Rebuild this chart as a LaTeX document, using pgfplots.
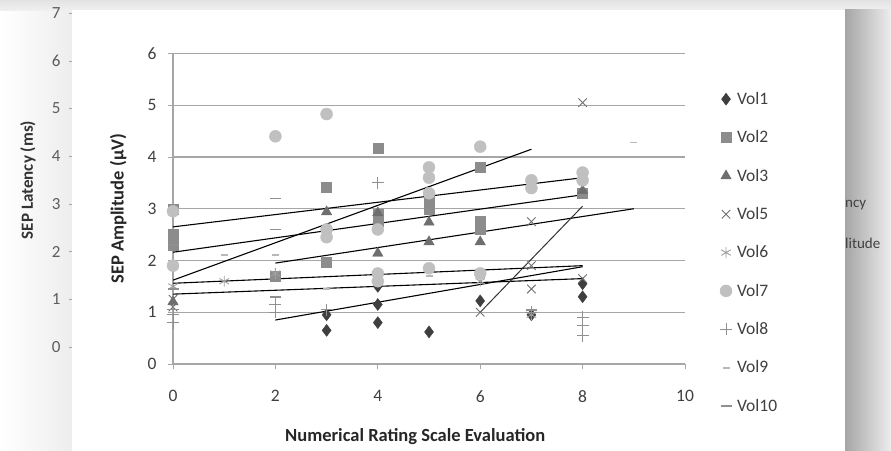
\documentclass[border=0pt]{standalone}
\usepackage{pgfplots}
\pgfplotsset{compat=1.18}
\usepackage{fontspec}
\setmainfont{Carlito}
\usetikzlibrary{shadings}
\definecolor{txt}{HTML}{404040}
\definecolor{gridc}{HTML}{A6A6A6}
\definecolor{cA}{HTML}{3F3F3F}
\definecolor{cB}{HTML}{8C8C8C}
\definecolor{cC}{HTML}{6E6E6E}
\definecolor{cD}{HTML}{707070}
\definecolor{cE}{HTML}{A0A0A0}
\definecolor{cF}{HTML}{C0C0C0}
\definecolor{cH}{HTML}{B8B8B8}
\definecolor{cI}{HTML}{909090}
\begin{document}
\begin{tikzpicture}
\useasboundingbox (0,0) rectangle (891pt,450pt);
\fill[white] (0,0) rectangle (891pt,450pt);
\shade[top color=gray!22, bottom color=gray!10] (0,438pt) rectangle (891pt,450pt);
\shade[left color=white, right color=gray!14] (0,0) rectangle (72pt,438pt);
\shade[left color=gray!70, right color=gray!14] (845pt,0) rectangle (891pt,440pt);
% background chart (partly hidden)
\begin{axis}[
  at={(72pt,103pt)}, anchor=south west,
  scale only axis, width=10pt, height=334pt,
  xmin=0, xmax=1, ymin=0, ymax=7,
  hide x axis, axis y line*=left,
  y axis line style={draw=none},
  ytick={0,1,...,7},
  /pgf/number format/assume math mode=true,
  tick align=outside, major tick length=3pt,
  tick style={gridc},
  yticklabel style={font=\fontsize{17}{18}\selectfont, text=txt!85, xshift=-5pt},
  ylabel={\textbf{SEP Latency (ms)}},
  ylabel style={font=\fontsize{17}{18}\selectfont, text=black!80, at={(axis description cs:-4.4,0.5)}, anchor=center},
]
\addplot[draw=none] coordinates {(0,0)};
\end{axis}
\node[anchor=west, text=txt, font=\fontsize{15}{16}\selectfont, inner sep=0pt] at (845pt,245pt) {ncy};
\node[anchor=west, text=txt, font=\fontsize{15}{16}\selectfont, inner sep=0pt] at (845pt,207pt) {litude};
% panel
\fill[white] (72pt,0) rectangle (845pt,440pt);
% foreground chart
\begin{axis}[
  at={(173pt,86pt)}, anchor=south west,
  scale only axis, width=512pt, height=310.5pt,
  xmin=0, xmax=10, ymin=0, ymax=6,
  axis x line=bottom, axis y line=left,
  axis line style={gridc, line width=1.2pt, -},
  xtick={0,2,...,10}, ytick={0,1,...,6},
  /pgf/number format/assume math mode=true,
  ymajorgrids, grid style={gridc, line width=1.2pt},
  tick align=outside, major tick length=5pt,
  tick style={gridc, line width=0.8pt},
  ticklabel style={font=\fontsize{17.5}{18}\selectfont, text=txt},
  xticklabel style={yshift=-18pt},
  yticklabel style={xshift=-8pt},
  xlabel={\textbf{Numerical Rating Scale  Evaluation}},
  ylabel={\textbf{SEP Amplitude (µV)}},
  label style={font=\fontsize{18.5}{19}\selectfont, text=black!85},
  xlabel style={at={(axis description cs:0.473,-0.235)}, anchor=center},
  ylabel style={at={(axis description cs:-0.107,0.5)}, anchor=center},
  legend style={at={(1.068,0.882)}, anchor=north west, draw=none, fill=none,
    font=\fontsize{17.5}{18}\selectfont, text=txt, row sep=20.7pt, column sep=3pt, inner sep=0pt},
  legend cell align=left,
  clip=false,
]
% Vol1
\addplot[only marks, mark=diamond*, mark size=6pt, color=cA] coordinates {
(3,0.95)(3,0.65)(4,1.5)(4,1.15)(4,0.8)(5,0.62)(6,1.22)(7,0.95)(8,1.55)(8,1.3)};
\addlegendentry{Vol1}
% Vol2
\addplot[only marks, mark=square*, mark size=5pt, color=cB] coordinates {
(0,3.0)(0,2.5)(0,2.3)(2,1.7)(3,3.42)(3,1.97)(4,4.17)(4,2.9)(4,2.75)(5,3.15)(5,3.0)(6,3.8)(6,2.75)(6,2.6)(8,3.3)};
\addlegendentry{Vol2}
% Vol3
\addplot[only marks, mark=triangle*, mark size=6pt, color=cC] coordinates {
(0,1.2)(3,2.94)(3,2.53)(4,2.92)(4,2.14)(5,2.74)(5,2.36)(6,2.36)(8,3.35)};
\addlegendentry{Vol3}
% Vol5
\addplot[only marks, mark=x, mark size=6pt, line width=0.9pt, color=cD] coordinates {
(0,1.25)(0,1.1)(6,1.0)(6,1.75)(7,2.75)(7,1.9)(7,1.45)(8,5.05)(8,1.65)};
\addlegendentry{Vol5}
% Vol6
\addplot[only marks, mark=asterisk, mark size=5.5pt, line width=0.9pt, color=cE] coordinates {
(0,1.5)(1,1.6)(2,1.75)(6,1.6)(7,0.95)};
\addlegendentry{Vol6}
% Vol7
\addplot[only marks, mark=*, mark size=6pt, color=cF] coordinates {
(0,2.95)(0,1.9)(2,4.4)(3,4.83)(3,2.6)(3,2.45)(4,2.6)(4,1.75)(4,1.6)(5,3.8)(5,3.6)(5,3.3)(5,1.85)(6,4.2)(6,1.75)(7,3.55)(7,3.4)(8,3.7)(8,3.55)};
\addlegendentry{Vol7}
% Vol8
\addplot[only marks, mark=+, mark size=6pt, line width=0.9pt, color=cI] coordinates {
(0,1.05)(0,0.95)(0,0.8)(2,1.15)(2,1.0)(3,1.05)(4,3.5)(7,1.0)(8,0.9)(8,0.75)(8,0.55)};
\addlegendentry{Vol8}
% Vol9
\addplot[only marks, mark=-, mark size=3.5pt, line width=1.8pt, color=cH] coordinates {
(1,2.1)(2,2.1)(3,1.45)(5,1.7)(9,4.28)};
\addlegendentry{Vol9}
% Vol10
\addplot[only marks, mark=-, mark size=5.5pt, line width=1.8pt, color=cI] coordinates {
(0,2.3)(0,1.45)(2,3.2)(2,2.6)(2,1.3)(3,2.0)(7,1.05)};
\addlegendentry{Vol10}
% trend lines
\addplot[forget plot, black, line width=1.1pt] coordinates {(0,2.65)(8,3.6)};
\addplot[forget plot, black, line width=1.1pt] coordinates {(0,2.16)(8,3.27)};
\addplot[forget plot, black, line width=1.1pt] coordinates {(2,1.95)(9,3.0)};
\addplot[forget plot, black, line width=1.1pt] coordinates {(0,1.62)(7,4.15)};
\addplot[forget plot, black, line width=1.1pt] coordinates {(0,1.56)(8,1.9)};
\addplot[forget plot, black, line width=1.1pt] coordinates {(0,1.35)(8,1.65)};
\addplot[forget plot, black, line width=1.1pt] coordinates {(2,0.85)(8,1.88)};
\addplot[forget plot, black!80, line width=1.0pt] coordinates {(6,1.0)(8,3.05)};
\end{axis}
\end{tikzpicture}
\end{document}
